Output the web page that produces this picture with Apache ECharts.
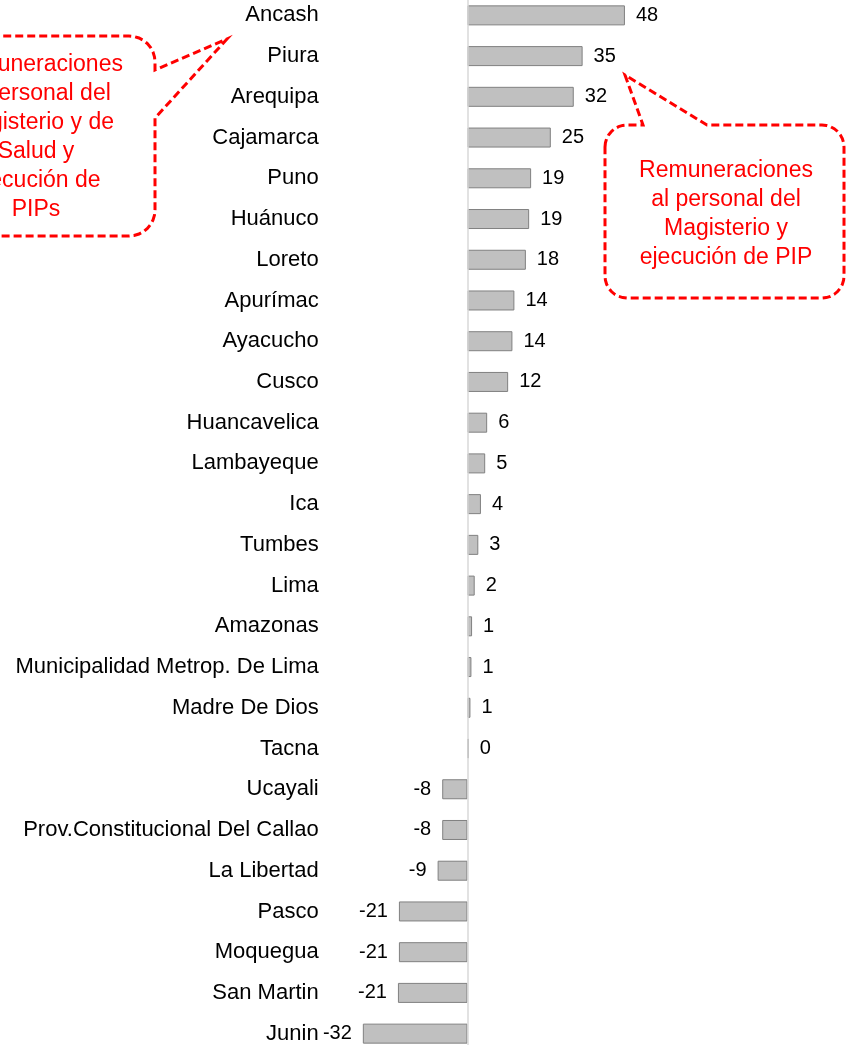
<!DOCTYPE html>
<html>
<head>
<meta charset="utf-8">
<title>Variación por región</title>
<script src="https://cdn.jsdelivr.net/npm/echarts@6/dist/echarts.min.js"></script>
<style>
  html, body { margin: 0; padding: 0; background: #fff; }
  #chart { width: 846px; height: 1045px; }
</style>
</head>
<body>
<div id="chart"></div>
<script>
// regiones, de arriba hacia abajo
var regiones = [
  'Ancash', 'Piura', 'Arequipa', 'Cajamarca', 'Puno', 'Huánuco', 'Loreto',
  'Apurímac', 'Ayacucho', 'Cusco', 'Huancavelica', 'Lambayeque', 'Ica',
  'Tumbes', 'Lima', 'Amazonas', 'Municipalidad Metrop. De Lima',
  'Madre De Dios', 'Tacna', 'Ucayali', 'Prov.Constitucional Del Callao',
  'La Libertad', 'Pasco', 'Moquegua', 'San Martin', 'Junin'
];
// valores (la etiqueta muestra el valor redondeado)
var valores = [
  48.0, 35.1, 32.4, 25.4, 19.4, 18.8, 17.8,
  14.3, 13.7, 12.4, 6.0, 5.4, 4.1,
  3.3, 2.2, 1.4, 1.2,
  0.9, 0.4, -7.7, -7.7,
  -9.1, -20.9, -20.9, -21.2, -31.9
];

var textoIzq = 'Remuneraciones\nal personal del\nMagisterio y de\nSalud y\nejecución de\nPIPs';
var textoDer = 'Remuneraciones\nal personal del\nMagisterio y\nejecución de PIP';

// puntos de un arco (para las esquinas redondeadas de los globos)
function arco(cx, cy, r, a0, a1) {
  var pts = [];
  for (var i = 0; i <= 8; i++) {
    var a = (a0 + (a1 - a0) * i / 8) * Math.PI / 180;
    pts.push([cx + r * Math.cos(a), cy + r * Math.sin(a)]);
  }
  return pts;
}

// globo izquierdo: cola en el lado derecho
function globoIzq() {
  var x0 = -90, x1 = 155, y0 = 36, y1 = 236, r = 26;
  var p = [];
  p = p.concat(arco(x0 + r, y0 + r, r, 180, 270));
  p = p.concat(arco(x1 - r, y0 + r, r, 270, 360));
  p.push([x1, 70], [227, 39], [x1, 118]);
  p = p.concat(arco(x1 - r, y1 - r, r, 0, 90));
  p = p.concat(arco(x0 + r, y1 - r, r, 90, 180));
  return p;
}

// globo derecho: cola en el lado superior
function globoDer() {
  var x0 = 605, x1 = 844, y0 = 125, y1 = 298, r = 22;
  var p = [];
  p = p.concat(arco(x0 + r, y0 + r, r, 180, 270));
  p.push([643, y0], [625, 75], [707, y0]);
  p = p.concat(arco(x1 - r, y0 + r, r, 270, 360));
  p = p.concat(arco(x1 - r, y1 - r, r, 0, 90));
  p = p.concat(arco(x0 + r, y1 - r, r, 90, 180));
  return p;
}

var chart = echarts.init(document.getElementById('chart'));

var estiloGlobo = {
  fill: '#fff',
  stroke: '#ff0000',
  lineWidth: 3,
  lineDash: [8, 4]
};

chart.setOption({
  animation: false,
  backgroundColor: '#fff',
  textStyle: { fontFamily: 'Liberation Sans, Arial, sans-serif' },
  grid: { left: 329.7, width: 334.6, top: -5, height: 1059, outerBoundsMode: 'none' },
  xAxis: {
    type: 'value',
    min: -42,
    max: 60,
    show: false
  },
  yAxis: {
    type: 'category',
    inverse: true,
    data: regiones,
    axisLine: { show: false, onZero: false },
    axisTick: { show: false },
    axisLabel: { fontSize: 22, color: '#000', margin: 11 }
  },
  series: [{
    type: 'bar',
    barWidth: 20,
    data: valores.map(function (v) {
      return { value: v, label: { position: v < 0 ? 'left' : 'right' } };
    }),
    itemStyle: { color: '#c0c0c0', borderColor: '#808080', borderWidth: 1 },
    label: {
      show: true,
      distance: 11,
      fontSize: 20,
      color: '#000',
      formatter: function (p) { return String(Math.round(p.value)); }
    },
    markLine: {
      silent: true,
      symbol: ['none', 'none'],
      label: { show: false },
      lineStyle: { color: '#d9d9d9', width: 1.5, type: 'solid' },
      data: [{ xAxis: 0 }]
    }
  }],
  graphic: [
    { type: 'polygon', shape: { points: globoIzq() }, style: estiloGlobo, z: 10 },
    {
      type: 'text', x: 36, y: 137, z: 11,
      style: {
        text: textoIzq, fill: '#ff0000', fontSize: 23, lineHeight: 29,
        fontFamily: 'Liberation Sans, Arial, sans-serif',
        align: 'center', verticalAlign: 'middle'
      }
    },
    { type: 'polygon', shape: { points: globoDer() }, style: estiloGlobo, z: 10 },
    {
      type: 'text', x: 726, y: 214, z: 11,
      style: {
        text: textoDer, fill: '#ff0000', fontSize: 23, lineHeight: 29,
        fontFamily: 'Liberation Sans, Arial, sans-serif',
        align: 'center', verticalAlign: 'middle'
      }
    }
  ]
});
</script>
</body>
</html>
